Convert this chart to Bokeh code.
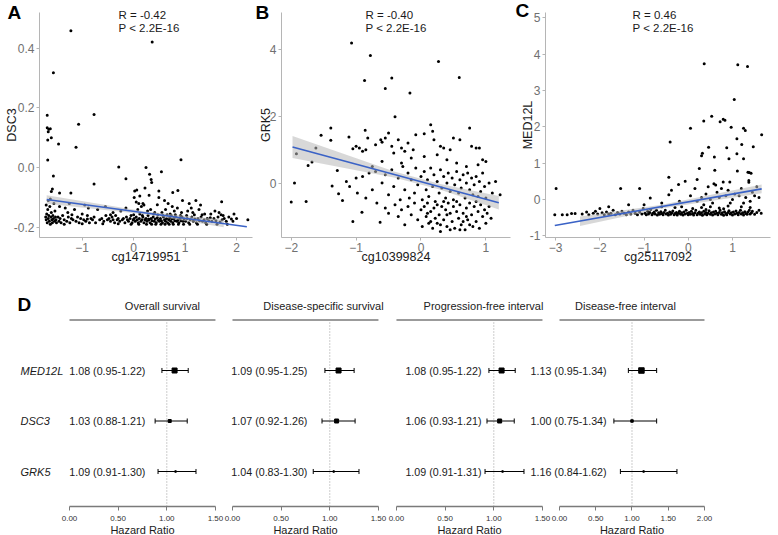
from bokeh.plotting import figure
from bokeh.models import Range1d, FixedTicker, NumeralTickFormatter
from bokeh.layouts import row, column
from bokeh.embed import file_html
from bokeh.resources import INLINE
from bokeh.core.properties import value

FONT = "Liberation Sans"

# ---------------- Panel A : DSC3 vs cg14719951 ----------------
dsc3_points = [
    (-1.22, 0.458), (0.36, 0.42), (-1.56, 0.317), (-1.68, 0.175), (-0.77, 0.178), (-1.07, 0.145),
    (-1.68, 0.133), (-1.65, 0.128), (-1.62, 0.13), (-1.66, 0.12), (-1.60, 0.10), (-1.67, 0.092),
    (-1.46, 0.079), (-1.12, 0.068), (-1.67, 0.025), (-1.56, -0.028), (-0.77, -0.055), (-1.22, -0.085),
    (-1.44, -0.085), (-1.58, -0.072), (-1.60, -0.08), (-0.29, 0.002), (-0.15, -0.037), (0.24, 0.0),
    (0.31, -0.022), (0.34, -0.04), (0.35, -0.05), (0.54, -0.014), (0.92, 0.026), (0.02, -0.078),
    (0.06, -0.075), (0.12, -0.095), (0.22, -0.068), (0.30, -0.093), (0.49, -0.078), (0.49, -0.10),
    (0.76, -0.083), (0.86, -0.077), (0.46, -0.124), (0.10, -0.12), (0.18, -0.12), (0.01, -0.10),
    (1.08, -0.12), (1.21, -0.11), (1.71, -0.114),
    (-1.71, -0.165), (-1.70, -0.175), (-1.69, -0.155), (-1.68, -0.185), (-1.67, -0.14), (-1.66, -0.17),
    (-1.65, -0.16), (-1.64, -0.18), (-1.63, -0.13), (-1.62, -0.19), (-1.61, -0.165), (-1.60, -0.15),
    (-1.59, -0.175), (-1.58, -0.185), (-1.57, -0.16), (-1.56, -0.17), (-1.55, -0.12), (-1.54, -0.18),
    (-1.53, -0.145), (-1.52, -0.165), (-1.51, -0.175), (-1.50, -0.185), (-1.66, -0.11), (-1.70, -0.125),
    (-1.62, -0.105),
    (-1.47, -0.165), (-1.45, -0.18), (-1.43, -0.17), (-1.41, -0.185), (-1.38, -0.16), (-1.35, -0.175),
    (-1.33, -0.135), (-1.30, -0.18), (-1.27, -0.165), (-1.24, -0.185), (-1.21, -0.17), (-1.18, -0.175),
    (-1.15, -0.14), (-1.12, -0.18), (-1.09, -0.165), (-1.06, -0.185), (-1.03, -0.17), (-1.00, -0.155),
    (-1.44, -0.13), (-1.28, -0.15),
    (-0.97, -0.175), (-0.93, -0.18), (-0.90, -0.16), (-0.86, -0.185), (-0.83, -0.17), (-0.80, -0.175),
    (-0.77, -0.165), (-0.74, -0.185), (-0.70, -0.14), (-0.66, -0.175), (-0.62, -0.17), (-0.58, -0.18),
    (-0.54, -0.16), (-0.51, -0.175), (-0.88, -0.135),
    (-0.48, -0.17), (-0.45, -0.18), (-0.42, -0.165), (-0.40, -0.175), (-0.37, -0.185), (-0.35, -0.16),
    (-0.32, -0.175), (-0.30, -0.17), (-0.27, -0.18), (-0.25, -0.145), (-0.22, -0.175), (-0.20, -0.17),
    (-0.17, -0.185), (-0.14, -0.165), (-0.12, -0.175), (-0.10, -0.18), (-0.07, -0.17), (-0.05, -0.16),
    (-0.03, -0.185), (-0.01, -0.175), (-0.15, -0.135), (-0.40, -0.15),
    (0.01, -0.17), (0.03, -0.18), (0.05, -0.165), (0.07, -0.175), (0.09, -0.185), (0.11, -0.17),
    (0.12, -0.155), (0.14, -0.18), (0.16, -0.175), (0.18, -0.165), (0.20, -0.185), (0.22, -0.175),
    (0.24, -0.17), (0.26, -0.18), (0.28, -0.16), (0.30, -0.175), (0.32, -0.185), (0.34, -0.17),
    (0.36, -0.178), (0.38, -0.165), (0.40, -0.18), (0.42, -0.172), (0.44, -0.185), (0.46, -0.168),
    (0.48, -0.176), (0.08, -0.14), (0.15, -0.13), (0.27, -0.145), (0.33, -0.14), (0.41, -0.15),
    (0.05, -0.115), (0.20, -0.125),
    (0.50, -0.18), (0.52, -0.17), (0.54, -0.178), (0.56, -0.185), (0.58, -0.165), (0.60, -0.175),
    (0.62, -0.18), (0.64, -0.17), (0.66, -0.185), (0.68, -0.175), (0.70, -0.168), (0.72, -0.18),
    (0.74, -0.172), (0.76, -0.185), (0.78, -0.17), (0.80, -0.178), (0.82, -0.165), (0.84, -0.18),
    (0.86, -0.175), (0.88, -0.185), (0.90, -0.17), (0.92, -0.178), (0.94, -0.165), (0.96, -0.18),
    (0.98, -0.172), (0.55, -0.15), (0.62, -0.14), (0.71, -0.155), (0.79, -0.145), (0.85, -0.135),
    (0.93, -0.15), (0.67, -0.12),
    (1.01, -0.18), (1.04, -0.17), (1.07, -0.185), (1.10, -0.175), (1.13, -0.165), (1.16, -0.18),
    (1.19, -0.172), (1.22, -0.185), (1.25, -0.17), (1.28, -0.178), (1.31, -0.165), (1.34, -0.18),
    (1.37, -0.175), (1.40, -0.185), (1.43, -0.17), (1.46, -0.178), (1.49, -0.168), (1.05, -0.145),
    (1.15, -0.15), (1.27, -0.14), (1.38, -0.155), (1.12, -0.135),
    (1.52, -0.18), (1.56, -0.17), (1.60, -0.178), (1.64, -0.165), (1.68, -0.182), (1.72, -0.175),
    (1.76, -0.17), (1.80, -0.18), (1.85, -0.165), (1.90, -0.172), (1.95, -0.155), (2.22, -0.175),
    (1.58, -0.145), (1.66, -0.15), (1.74, -0.16),
    (-1.35, -0.19), (-1.20, -0.158), (-1.00, -0.188), (-0.90, -0.172), (-0.60, -0.188), (-0.45, -0.158),
    (-0.30, -0.188), (-0.05, -0.19), (0.00, -0.158), (0.10, -0.19), (0.17, -0.16), (0.25, -0.19),
    (0.29, -0.172), (0.35, -0.19), (0.39, -0.155), (0.43, -0.19), (0.47, -0.158), (0.53, -0.19),
    (0.57, -0.16), (0.61, -0.19), (0.65, -0.158), (0.69, -0.19), (0.73, -0.16), (0.77, -0.19),
    (0.81, -0.158), (0.87, -0.19), (0.91, -0.16), (0.97, -0.19), (1.03, -0.16), (1.09, -0.19),
    (1.18, -0.158), (1.24, -0.19), (1.33, -0.158), (1.42, -0.19), (1.50, -0.155), (1.62, -0.19),
    (1.70, -0.158), (1.82, -0.19), (1.93, -0.18), (2.00, -0.17),
    (-1.25, -0.12), (-0.95, -0.125), (-0.55, -0.13), (0.75, -0.13), (1.30, -0.125), (0.60, -0.11),
    (0.95, -0.11),
]
dsc3_fit_x = [-1.69, 2.20]
dsc3_fit_y = [-0.107, -0.198]
dsc3_band_x = [-1.69, 0.20, 1.75]
dsc3_band_lo = [-0.121, -0.156, -0.200]
dsc3_band_hi = [-0.093, -0.146, -0.175]

# ---------------- Panel B : GRK5 vs cg10399824 ----------------
grk5_points = [
    (-1.07, 4.2), (-0.78, 3.82), (-0.87, 3.07), (-0.55, 2.83), (-0.45, 3.15), (-0.17, 2.7),
    (0.27, 3.64), (0.59, 3.16), (-0.40, 1.99), (-1.39, 1.65), (-1.54, 1.43), (-1.39, 1.28),
    (-1.62, 1.05), (-1.92, 0.88), (-1.74, 0.53), (-1.68, 0.63), (-1.95, 0.0), (-2.0, -0.57),
    (-1.77, -0.55), (-1.37, -0.09), (-1.27, -0.32), (-1.29, 0.38), (-1.21, -0.52), (-1.05, -1.15),
    (-0.91, -0.87), (-0.63, -1.17), (-0.82, 1.35), (-0.86, 1.58), (-1.05, 1.03), (-1.11, 1.38),
    (-1.0, 1.1), (-0.95, 1.05), (-0.9, 0.95), (-0.85, 1.0), (-0.7, 1.15), (-0.62, 1.3), (-0.6, 1.22),
    (-0.55, 1.35), (-0.5, 1.5), (-0.45, 1.1), (-0.42, 0.9), (-0.35, 1.3), (-0.3, 1.05), (-0.25, 0.95),
    (-0.2, 1.2), (-0.12, 1.0), (-0.08, 1.45), (0.05, 1.48), (0.15, 1.75), (0.18, 1.55), (0.2, 1.3),
    (0.3, 1.1), (0.35, 1.05), (0.45, 1.0), (0.5, 1.35), (0.6, 1.3), (0.75, 1.65), (0.78, 1.1),
    (0.85, 1.05), (0.9, 1.05), (0.95, 0.7), (-0.15, 0.75), (0.05, 0.8), (0.25, 0.85), (0.4, 0.7),
    (0.55, 0.6), (0.7, 0.5), (0.88, 0.55), (1.0, 0.65), (-0.6, 0.65), (-0.75, 0.5), (-0.3, 0.6),
    (-1.15, 0.05), (-1.1, -0.1), (-1.0, 0.15), (-0.98, -0.3), (-0.9, 0.2), (-0.85, -0.45), (-0.8, 0.3),
    (-0.75, -0.2), (-0.7, 0.35), (-0.68, -0.6), (-0.6, 0.0), (-0.55, 0.25), (-0.5, -0.35), (-0.45, 0.4),
    (-0.42, -0.1), (-0.35, 0.15), (-0.32, -0.5), (-0.28, 0.5), (-0.25, -0.2), (-0.2, 0.3), (-0.18, -0.45),
    (-0.15, 0.1), (-0.1, -0.3), (-0.08, 0.45), (-0.05, -0.05), (0.0, 0.2), (0.02, -0.5), (0.05, 0.35),
    (0.08, -0.2), (0.1, 0.1), (0.12, -0.4), (0.15, 0.45), (0.18, -0.1), (0.2, 0.25), (0.22, -0.55),
    (0.25, 0.05), (0.28, -0.3), (0.3, 0.4), (0.32, -0.15), (0.35, 0.2), (0.38, -0.45), (0.4, 0.0),
    (0.42, 0.3), (0.45, -0.25), (0.48, 0.15), (0.5, -0.5), (0.52, -0.05), (0.55, 0.35), (0.58, -0.3),
    (0.6, 0.1), (0.62, -0.15), (0.65, 0.25), (0.68, -0.45), (0.7, 0.0), (0.72, 0.3), (0.75, -0.2),
    (0.78, 0.15), (0.8, -0.35), (0.82, -0.05), (0.85, 0.2), (0.88, -0.4), (0.9, 0.05), (0.92, -0.25),
    (0.95, 0.3), (0.98, -0.1), (1.0, -0.45), (1.05, 0.0), (1.1, -0.3), (1.15, 0.05), (1.22, -0.35),
    (-0.55, -0.75), (-0.5, -0.9), (-0.4, -0.65), (-0.35, -1.0), (-0.3, -0.8), (-0.25, -1.25), (-0.2, -0.7),
    (-0.15, -0.95), (-0.1, -0.6), (-0.05, -1.1), (0.0, -0.8), (0.02, -1.3), (0.05, -0.7), (0.08, -1.0),
    (0.1, -0.6), (0.12, -1.2), (0.15, -0.85), (0.18, -1.35), (0.2, -0.75), (0.22, -1.05), (0.25, -0.65),
    (0.28, -0.95), (0.3, -1.25), (0.32, -0.7), (0.35, -1.1), (0.38, -0.8), (0.4, -1.3), (0.42, -0.6),
    (0.45, -0.9), (0.48, -1.15), (0.5, -0.7), (0.52, -1.35), (0.55, -0.85), (0.58, -1.05), (0.6, -0.65),
    (0.62, -1.25), (0.65, -0.9), (0.68, -1.4), (0.7, -0.75), (0.72, -1.1), (0.75, -0.6), (0.78, -0.95),
    (0.8, -1.3), (0.82, -0.7), (0.85, -1.15), (0.88, -0.85), (0.9, -1.35), (0.92, -0.65), (0.95, -1.0),
    (0.98, -0.8), (1.0, -1.2), (1.02, -0.9), (1.05, -0.7), (1.08, -1.05), (0.6, -1.4), (0.3, -1.45),
    (0.45, -1.4), (0.75, -1.25), (0.15, -1.15), (0.55, -0.55), (0.35, -0.55), (0.25, -1.2), (0.65, -1.15),
    (0.85, -0.55), (0.1, -0.9), (0.4, -0.95), (0.7, -1.0),
]
grk5_fit_x = [-1.98, 1.20]
grk5_fit_y = [1.08, -0.59]
grk5_band_x = [-1.98, -0.40, 0.30, 1.20]
grk5_band_lo = [0.75, 0.16, -0.20, -0.79]
grk5_band_hi = [1.41, 0.34, -0.03, -0.39]

# ---------------- Panel C : MED12L vs cg25117092 ----------------
med12l_points = [
    (0.36, 3.74), (1.12, 3.71), (1.34, 3.66), (1.04, 2.75), (0.53, 2.29), (0.35, 2.16), (0.79, 2.21),
    (0.83, 2.18), (0.72, 2.14), (0.97, 1.99), (0.05, 1.96), (1.25, 1.96), (1.29, 1.9), (1.66, 1.78),
    (1.1, 1.67), (-0.41, 1.58), (1.21, 1.51), (0.46, 1.44), (0.87, 1.42), (1.47, 1.45), (0.32, 1.27),
    (0.3, 1.2), (1.1, 1.26), (0.59, 1.17), (0.92, 1.12), (1.25, 1.12), (0.25, 0.85), (0.6, 0.8),
    (1.11, 0.78), (1.35, 0.75), (1.38, 0.74), (1.42, 0.72), (-0.44, 0.61), (0.2, 0.55), (0.79, 0.48),
    (0.58, 0.43), (0.62, 0.4), (0.94, 0.48), (1.37, 0.52), (1.37, 0.47), (-0.22, 0.41), (-0.07, 0.5),
    (-0.38, 0.25), (-2.99, 0.3), (-1.53, 0.3), (-1.1, 0.3), (-0.86, 0.04), (-0.44, 0.13),
    (0.05, 0.1), (0.15, 0.3), (0.3, 0.05), (0.4, 0.15), (0.45, 0.35), (0.5, 0.0), (0.65, 0.2),
    (0.7, 0.05), (0.75, 0.3), (0.85, 0.1), (0.9, 0.25), (1.0, 0.0), (1.05, 0.15), (1.15, 0.1),
    (1.2, 0.3), (1.3, 0.05), (1.45, 0.2), (1.5, 0.1), (1.55, 0.35), (1.4, -0.05), (0.2, -0.05),
    (-0.2, -0.05), (-0.6, -0.1), (-1.0, -0.15), (-1.35, -0.15), (-1.8, -0.2), (-2.0, -0.25),
    (0.95, -0.1), (0.55, -0.1), (1.25, -0.1), (0.35, -0.15), (1.6, 0.05),
    (-3.02, -0.42), (-2.85, -0.42), (-2.74, -0.42), (-2.64, -0.39), (-2.56, -0.39), (-2.4, -0.4),
    (-2.3, -0.35), (-2.25, -0.42), (-2.15, -0.38), (-2.1, -0.33), (-2.05, -0.4),
    (-1.95, -0.37), (-1.9, -0.42), (-1.85, -0.35), (-1.8, -0.4), (-1.75, -0.38), (-1.7, -0.3),
    (-1.65, -0.42), (-1.6, -0.36), (-1.55, -0.4), (-1.5, -0.33), (-1.45, -0.38), (-1.4, -0.42),
    (-1.35, -0.35), (-1.3, -0.4), (-1.25, -0.3), (-1.2, -0.38), (-1.15, -0.42), (-1.1, -0.35),
    (-1.05, -0.4), (-1.02, -0.25),
    (-0.98, -0.38), (-0.95, -0.42), (-0.92, -0.33), (-0.9, -0.4), (-0.87, -0.36), (-0.85, -0.28),
    (-0.82, -0.42), (-0.8, -0.38), (-0.77, -0.35), (-0.75, -0.4), (-0.72, -0.3), (-0.7, -0.43),
    (-0.67, -0.37), (-0.65, -0.41), (-0.62, -0.34), (-0.6, -0.39), (-0.57, -0.42), (-0.55, -0.36),
    (-0.52, -0.3), (-0.5, -0.4), (-0.47, -0.38), (-0.45, -0.43), (-0.42, -0.35), (-0.4, -0.41),
    (-0.37, -0.37), (-0.35, -0.32), (-0.32, -0.42), (-0.3, -0.39), (-0.27, -0.36), (-0.25, -0.43),
    (-0.22, -0.38), (-0.2, -0.33), (-0.17, -0.41), (-0.15, -0.37), (-0.12, -0.43), (-0.1, -0.35),
    (-0.07, -0.4), (-0.05, -0.3), (-0.02, -0.38), (0.0, -0.42), (-0.6, -0.2), (-0.3, -0.22),
    (-0.15, -0.2),
    (0.02, -0.36), (0.05, -0.41), (0.07, -0.33), (0.1, -0.39), (0.12, -0.43), (0.15, -0.37),
    (0.17, -0.3), (0.2, -0.42), (0.22, -0.38), (0.25, -0.35), (0.27, -0.41), (0.3, -0.37),
    (0.32, -0.44), (0.35, -0.33), (0.37, -0.4), (0.4, -0.36), (0.42, -0.42), (0.45, -0.38),
    (0.47, -0.31), (0.5, -0.41), (0.52, -0.37), (0.55, -0.43), (0.57, -0.35), (0.6, -0.4),
    (0.62, -0.33), (0.65, -0.38), (0.67, -0.42), (0.7, -0.36), (0.72, -0.3), (0.75, -0.41),
    (0.77, -0.37), (0.8, -0.44), (0.82, -0.34), (0.85, -0.39), (0.87, -0.42), (0.9, -0.36),
    (0.92, -0.31), (0.95, -0.4), (0.97, -0.37), (1.0, -0.43), (0.1, -0.25), (0.3, -0.22),
    (0.5, -0.2), (0.7, -0.24), (0.9, -0.18), (0.4, -0.28), (0.8, -0.26),
    (1.02, -0.35), (1.05, -0.4), (1.08, -0.32), (1.1, -0.38), (1.13, -0.42), (1.15, -0.36),
    (1.18, -0.3), (1.2, -0.4), (1.23, -0.37), (1.25, -0.43), (1.28, -0.34), (1.3, -0.39),
    (1.33, -0.41), (1.35, -0.35), (1.38, -0.3), (1.4, -0.4), (1.43, -0.37), (1.45, -0.33),
    (1.5, -0.41), (1.55, -0.36), (1.6, -0.3), (1.65, -0.38), (1.2, -0.2), (1.4, -0.22),
]
med12l_fit_x = [-3.02, 1.66]
med12l_fit_y = [-0.72, 0.29]
med12l_band_x = [-2.45, -0.60, 1.66]
med12l_band_lo = [-0.73, -0.25, 0.17]
med12l_band_hi = [-0.47, -0.15, 0.41]

corr_texts = ["R = -0.42", "R = -0.40", "R = 0.46"]
p_text = "P < 2.2E-16"

# ---------------- Panel D : forest plots ----------------
genes = ["MED12L", "DSC3", "GRK5"]
endpoints = ["Overall survival", "Disease-specific survival", "Progression-free interval", "Disease-free interval"]
hr = [[1.08, 1.03, 1.09], [1.09, 1.07, 1.04], [1.08, 1.06, 1.09], [1.13, 1.00, 1.16]]
ci_lo = [[0.95, 0.88, 0.91], [0.95, 0.92, 0.83], [0.95, 0.93, 0.91], [0.95, 0.75, 0.84]]
ci_hi = [[1.22, 1.21, 1.30], [1.25, 1.26, 1.30], [1.22, 1.21, 1.31], [1.34, 1.34, 1.62]]
axis_max = [1.5, 1.5, 1.5, 2.0]
axis_ticks = [[0, 0.5, 1.0, 1.5]] * 3 + [[0, 0.5, 1.0, 1.5, 2.0]]
box_size = [[5, 3, 1.5], [5, 4, 1.5], [5, 4, 1.5], [5.5, 2.5, 1.5]]
x_title = "Hazard Ratio"
panel_letters = ["A", "B", "C", "D"]

# ---------------- layout / styling constants ----------------
BLUE = "#3A62C6"
PAGE_W = 777
TOP_H = 267
BOT_H = 268


def style_axis(ax, standoff):
    ax.axis_line_color = "#b5b5b5"
    ax.axis_line_width = 1
    ax.major_tick_line_color = "#b5b5b5"
    ax.major_tick_out = 3
    ax.major_tick_in = 0
    ax.minor_tick_line_color = None
    ax.major_label_text_font = FONT
    ax.major_label_text_font_size = "12px"
    ax.major_label_text_color = "#707070"
    ax.major_label_standoff = 2
    ax.axis_label_text_font = FONT
    ax.axis_label_text_font_size = "12.5px"
    ax.axis_label_text_font_style = "normal"
    ax.axis_label_text_color = "#1a1a1a"
    ax.axis_label_standoff = standoff


def scatter_panel(pts, fit_x, fit_y, bx, blo, bhi, xr, yr, xticks, yticks, yfmt,
                  xlabel, ylabel, width, left, right, ystand):
    p = figure(width=width, height=TOP_H, x_range=Range1d(*xr), y_range=Range1d(*yr),
               output_backend="svg", toolbar_location=None,
               min_border_left=left, min_border_right=right, min_border_top=12, min_border_bottom=30)
    p.grid.visible = False
    p.outline_line_color = None
    p.background_fill_alpha = 0
    p.border_fill_alpha = 0
    xs = [q[0] for q in pts]
    ys = [q[1] for q in pts]
    p.scatter(xs, ys, size=3, color="black", line_width=0)
    p.varea(x=bx, y1=blo, y2=bhi, fill_color="#b8b8b8", fill_alpha=0.55)
    p.line(fit_x, fit_y, line_color=BLUE, line_width=1.6)
    p.xaxis.ticker = FixedTicker(ticks=xticks)
    p.yaxis.ticker = FixedTicker(ticks=yticks)
    p.yaxis.formatter = NumeralTickFormatter(format=yfmt)
    p.xaxis.axis_label = xlabel
    p.yaxis.axis_label = ylabel
    style_axis(p.xaxis[0], -5)
    style_axis(p.yaxis[0], ystand)
    return p


pA = scatter_panel(dsc3_points, dsc3_fit_x, dsc3_fit_y, dsc3_band_x, dsc3_band_lo, dsc3_band_hi,
                   (-1.83, 2.31), (-0.234, 0.519), [-1, 0, 1, 2], [-0.2, 0.0, 0.2, 0.4], "0.0",
                   "cg14719951", "DSC3", 255, 39, 3, -8)
pB = scatter_panel(grk5_points, grk5_fit_x, grk5_fit_y, grk5_band_x, grk5_band_lo, grk5_band_hi,
                   (-2.15, 1.38), (-1.63, 5.11), [-2, -1, 0, 1], [0, 2, 4], "0",
                   "cg10399824", "GRK5", 260, 25, 5, -6)
pC = scatter_panel(med12l_points, med12l_fit_x, med12l_fit_y, med12l_band_x, med12l_band_lo,
                   med12l_band_hi, (-3.23, 1.86), (-1.05, 5.15), [-3, -2, -1, 0, 1],
                   [-1, 0, 1, 2, 3, 4, 5], "0", "cg25117092", "MED12L", 262, 30, 7, -8)

# forest layout constants (pixel positions expressed in each panel's hazard-ratio space)
rows_y = [3, 2, 1]
f_widths = [224, 163, 165, 257]
f_xr = [(-0.709, 1.593), (-0.082, 1.593), (-0.092, 1.603), (-0.538, 3.007)]
label_right = [0.78, 0.77, 0.873, 0.65]
header_x = [0.955, 0.935, 0.894, 0.91]
F_BOTTOM = 29
f_ytop = 0.307 + (BOT_H - F_BOTTOM) / 50.5


def forest_panel(k):
    p = figure(width=f_widths[k], height=BOT_H, x_range=Range1d(*f_xr[k]), y_range=Range1d(0.307, f_ytop),
               output_backend="svg", toolbar_location=None, y_axis_type=None,
               min_border_left=0, min_border_right=0, min_border_top=0, min_border_bottom=F_BOTTOM)
    p.grid.visible = False
    p.outline_line_color = None
    p.background_fill_alpha = 0
    p.border_fill_alpha = 0
    xm = axis_max[k]
    p.segment(x0=[0], y0=[4], x1=[xm], y1=[4], line_color="#7a7a7a", line_width=1.3)
    p.segment(x0=[1], y0=[0.307], x1=[1], y1=[4], line_color="#9a9a9a", line_width=1, line_dash="1 2")
    p.text(x=[header_x[k]], y=[4.27], text=[endpoints[k]], text_align="center", text_baseline="middle",
           text_font=value(FONT), text_font_size="11px", text_color="#222222")
    p.segment(x0=ci_lo[k], y0=rows_y, x1=ci_hi[k], y1=rows_y, line_color="black", line_width=1)
    p.segment(x0=ci_lo[k], y0=[r - 0.05 for r in rows_y], x1=ci_lo[k], y1=[r + 0.05 for r in rows_y],
              line_color="black", line_width=1)
    p.segment(x0=ci_hi[k], y0=[r - 0.05 for r in rows_y], x1=ci_hi[k], y1=[r + 0.05 for r in rows_y],
              line_color="black", line_width=1)
    p.scatter(x=hr[k], y=rows_y, marker="square", size=box_size[k], color="black")
    labels = [f"{h:.2f} ({a:.2f}-{b:.2f})" for h, a, b in zip(hr[k], ci_lo[k], ci_hi[k])]
    p.text(x=[label_right[k]] * 3, y=rows_y, text=labels, text_align="right", text_baseline="middle",
           text_font=value(FONT), text_font_size="10.7px", text_color="#1a1a1a")
    if k == 0:
        p.text(x=[-0.503] * 3, y=rows_y, text=genes, text_align="left", text_baseline="middle",
               text_font=value(FONT), text_font_size="11px", text_font_style="italic",
               text_color="#1a1a1a")
    ax = p.xaxis[0]
    ax.bounds = (0, xm)
    ax.ticker = FixedTicker(ticks=axis_ticks[k])
    ax.formatter = NumeralTickFormatter(format="0.00")
    ax.axis_line_color = "#7a7a7a"
    ax.axis_line_width = 1.3
    ax.major_tick_line_color = "#7a7a7a"
    ax.major_tick_out = 4
    ax.major_tick_in = 0
    ax.minor_tick_line_color = None
    ax.major_label_text_font = FONT
    ax.major_label_text_font_size = "8px"
    ax.major_label_text_color = "#333333"
    ax.major_label_standoff = 5
    return p


d_panels = [forest_panel(k) for k in range(4)]
d_panels[3].margin = (0, 0, 0, -32)

# transparent overlay (page pixel space) for panel letters, correlation notes and forest x titles
ov = figure(width=PAGE_W, height=TOP_H + BOT_H, x_range=Range1d(0, PAGE_W), y_range=Range1d(TOP_H + BOT_H, 0),
            output_backend="svg", toolbar_location=None, x_axis_type=None, y_axis_type=None,
            min_border=0)
ov.grid.visible = False
ov.outline_line_color = None
ov.background_fill_alpha = 0
ov.border_fill_alpha = 0
letter_x = [7, 255, 515, 17]
letter_y = [12, 12, 10, 304]
ov.text(x=letter_x, y=letter_y, text=panel_letters, text_align="left", text_baseline="middle",
        text_font=value(FONT), text_font_size="19px", text_font_style="bold", text_color="black")
note_x = [118, 365, 632]
ov.text(x=note_x, y=[14] * 3, text=corr_texts, text_align="left", text_baseline="middle",
        text_font=value(FONT), text_font_size="11.5px", text_color="#1a1a1a")
ov.text(x=note_x, y=[27] * 3, text=[p_text] * 3, text_align="left", text_baseline="middle",
        text_font=value(FONT), text_font_size="11.5px", text_color="#1a1a1a")
title_x = [142, 305, 469, 631.5]
ov.text(x=title_x, y=[529] * 4, text=[x_title] * 4, text_align="center", text_baseline="middle",
        text_font=value(FONT), text_font_size="11px", text_color="#1a1a1a")
ov.margin = (-(TOP_H + BOT_H), 0, 0, 0)

layout = column(row(pA, pB, pC), row(*d_panels), ov)
open("out.html", "w").write(file_html(layout, INLINE))
